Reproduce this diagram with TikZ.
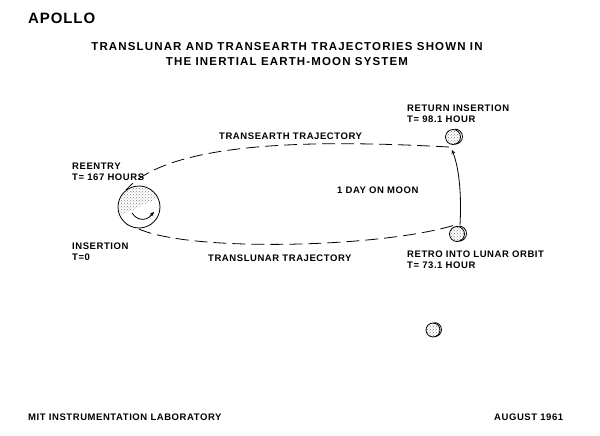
\documentclass[tikz,border=0pt]{standalone}
\usepackage{fontspec}
\setmainfont{Liberation Sans}
\usetikzlibrary{patterns}
\newcommand{\spc}{\addfontfeatures{LetterSpace=6}}
\begin{document}
\begin{tikzpicture}[x=1pt,y=-1pt,
  lbl/.style={font=\bfseries\fontsize{9.5}{11}\selectfont\spc,align=left,inner sep=0},
  traj/.style={thick,dash pattern=on 13pt off 6pt},
  body/.style={draw,thick,pattern=crosshatch dots,pattern color=gray}]
\useasboundingbox (0,0) rectangle (600,436);
\node[lbl,anchor=west,font=\bfseries\fontsize{15}{16}\selectfont\spc] (apollo) at (28,18) {APOLLO};
\node[lbl,align=center,font=\bfseries\fontsize{11.5}{15}\selectfont\addfontfeatures{LetterSpace=10}] (title) at (287,54) {TRANSLUNAR AND TRANSEARTH TRAJECTORIES SHOWN IN\\THE INERTIAL EARTH-MOON SYSTEM};
% Earth
\node[circle,draw,thick,minimum size=42pt,inner sep=0] (earth) at (139,207) {};
\begin{scope}
\clip (139,207) circle (20);
\fill[pattern=crosshatch dots,pattern color=gray] (115,185) -- (160,185) -- (158,198) -- (115,218) -- cycle;
\end{scope}
\draw[thick] (132,213) .. controls (138,222) and (148,221) .. (153,213);
\draw[thick,-stealth] (150,216) -- (154,212);
% moons
\node[circle,body,minimum size=15pt,inner sep=0] (mret) at (453,137) {};
\draw[thick] ([shift={(2,0)}]mret.north) arc (-90:90:7.5);
\node[circle,body,minimum size=15pt,inner sep=0] (mretro) at (457,234) {};
\draw[thick] ([shift={(2,0)}]mretro.north) arc (-90:90:7.5);
\node[circle,body,minimum size=14pt,inner sep=0] (mlow) at (433,330) {};
\draw[thick] ([shift={(1.5,0)}]mlow.north) arc (-90:90:7);
% trajectories
\coordinate (te1) at (449,147);
\coordinate (te2) at (126,190);
\draw[traj] (te1) .. controls (320,140) and (170,140) .. (te2);
\coordinate (tl1) at (139,229);
\coordinate (tl2) at (455,225);
\draw[traj] (tl1) .. controls (190,252) and (380,248) .. (tl2);
\draw[thick,-stealth] (460,225) .. controls (462,190) and (458,165) .. (452,150);
% labels
\node[lbl,anchor=west] (l1) at (407,114) {RETURN INSERTION\\T= 98.1 HOUR};
\node[lbl,anchor=west] (l2) at (219,136) {TRANSEARTH TRAJECTORY};
\node[lbl,anchor=west] (l3) at (72,172) {REENTRY\\T= 167 HOURS};
\node[lbl,anchor=west] (l4) at (337,190) {1 DAY ON MOON};
\node[lbl,anchor=west] (l5) at (72,252) {INSERTION\\T=0};
\node[lbl,anchor=west] (l6) at (208,258) {TRANSLUNAR TRAJECTORY};
\node[lbl,anchor=west] (l7) at (407,260) {RETRO INTO LUNAR ORBIT\\T= 73.1 HOUR};
\node[lbl,anchor=west] (l8) at (28,417) {MIT INSTRUMENTATION LABORATORY};
\node[lbl,anchor=west] (l9) at (494,417) {AUGUST 1961};
\end{tikzpicture}
\end{document}
